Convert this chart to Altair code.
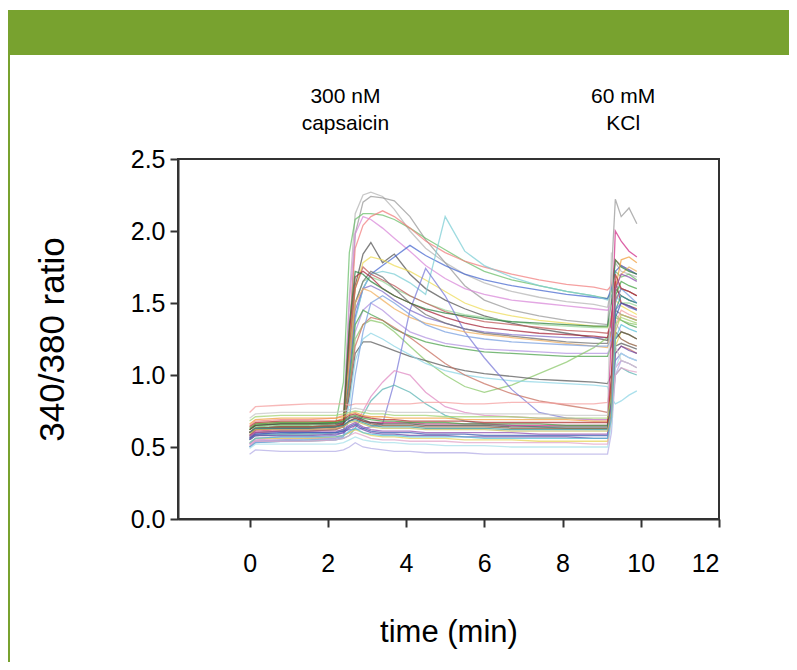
import altair as alt
import pandas as pd

# time grid (min) shared by all traces
T = [0.0, 0.15, 0.8, 1.5, 2.2, 2.4, 2.55, 2.7, 2.9, 3.1, 3.4, 3.7, 4.1, 4.5, 5.0,
     5.5, 6.0, 6.7, 7.4, 8.1, 8.8, 9.15, 9.25, 9.35, 9.5, 9.7, 9.9]

TRACE_COLORS = [
    "#b5b5b5", "#9a9a9a", "#6cbf6c", "#f28080", "#d98ad9", "#555555", "#4a6ad0",
    "#eedc5a", "#7fcfd6", "#9ad89a", "#c05a5a", "#8070c8", "#707070", "#b394e0",
    "#4ea34e", "#8cc86c", "#5c5c5c", "#8fd6e6", "#c87060", "#7c7cd8", "#e08cc4",
    "#5eb4b4", "#f4a0a0", "#f0b060", "#a8283c", "#d0308a", "#2f8040", "#7aa0e0",
    "#b4aee6", "#a8e0ea", "#e6d45a", "#3c5cb0", "#8b5a3a", "#6a48a8", "#44a444",
    "#f0a040", "#4a4a4a", "#2e9494", "#e2a6c8", "#b03030", "#a4d474", "#c8c8c8",
    "#9050b0", "#c8c060", "#58c0d8",
]

TRACE_VALUES = [
    [0.58,0.62,0.63,0.63,0.64,0.68,1.55,2.12,2.25,2.27,2.24,2.15,2.0,1.88,1.78,1.7,1.64,1.58,1.54,1.51,1.49,1.47,1.6,1.78,1.72,1.7,1.68],
    [0.55,0.6,0.61,0.61,0.62,0.65,1.25,1.98,2.2,2.24,2.23,2.21,2.1,1.94,1.78,1.62,1.52,1.45,1.41,1.38,1.36,1.35,1.7,2.22,2.1,2.16,2.05],
    [0.6,0.64,0.65,0.65,0.66,0.95,1.85,2.08,2.12,2.12,2.11,2.08,2.02,1.95,1.87,1.79,1.72,1.66,1.62,1.58,1.55,1.53,1.58,1.72,1.68,1.7,1.66],
    [0.65,0.68,0.69,0.69,0.7,0.72,1.3,1.88,2.04,2.1,2.14,2.1,2.02,1.93,1.85,1.79,1.75,1.7,1.66,1.63,1.61,1.59,1.62,1.8,1.76,1.73,1.7],
    [0.6,0.63,0.64,0.64,0.65,0.68,1.5,1.98,2.1,2.08,2.02,1.95,1.86,1.76,1.67,1.6,1.56,1.52,1.5,1.48,1.46,1.45,1.5,1.66,1.6,1.58,1.55],
    [0.58,0.62,0.63,0.63,0.64,0.66,1.2,1.62,1.84,1.92,1.78,1.84,1.7,1.6,1.52,1.46,1.41,1.36,1.32,1.29,1.26,1.24,1.38,1.6,1.55,1.52,1.5],
    [0.55,0.58,0.59,0.6,0.6,0.62,1.0,1.4,1.6,1.7,1.76,1.82,1.9,1.83,1.76,1.7,1.66,1.62,1.59,1.56,1.54,1.53,1.6,1.72,1.76,1.73,1.7],
    [0.62,0.65,0.66,0.66,0.67,0.69,1.2,1.6,1.78,1.82,1.8,1.76,1.72,1.66,1.58,1.5,1.45,1.41,1.38,1.36,1.34,1.33,1.4,1.52,1.48,1.45,1.42],
    [0.5,0.54,0.55,0.55,0.56,0.58,0.9,1.38,1.6,1.7,1.72,1.7,1.64,1.56,2.1,1.86,1.76,1.68,1.62,1.58,1.55,1.52,1.55,1.62,1.6,1.58,1.55],
    [0.57,0.6,0.61,0.61,0.62,0.64,1.1,1.5,1.65,1.68,1.65,1.6,1.55,1.5,1.45,1.42,1.4,1.37,1.35,1.34,1.33,1.33,1.42,1.56,1.5,1.5,1.48],
    [0.56,0.6,0.61,0.61,0.62,0.64,1.2,1.6,1.75,1.7,1.66,1.62,1.55,1.5,1.44,1.4,1.37,1.35,1.33,1.31,1.3,1.29,1.36,1.52,1.6,1.58,1.55],
    [0.52,0.56,0.57,0.57,0.58,0.6,1.0,1.45,1.6,1.62,1.58,1.52,1.45,1.4,1.36,1.32,1.3,1.28,1.27,1.26,1.26,1.26,1.3,1.45,1.5,1.47,1.45],
    [0.6,0.63,0.64,0.64,0.65,0.66,1.1,1.5,1.65,1.72,1.68,1.6,1.5,1.42,1.36,1.32,1.29,1.27,1.25,1.23,1.22,1.22,1.3,1.45,1.42,1.4,1.38],
    [0.5,0.54,0.55,0.56,0.56,0.58,0.9,1.3,1.45,1.5,1.45,1.38,1.3,1.26,1.22,1.2,1.18,1.17,1.16,1.15,1.15,1.15,1.2,1.36,1.3,1.28,1.25],
    [0.55,0.58,0.59,0.59,0.6,0.62,0.95,1.35,1.45,1.42,1.38,1.32,1.27,1.23,1.2,1.18,1.16,1.15,1.14,1.13,1.13,1.13,1.2,1.4,1.38,1.35,1.33],
    [0.6,0.63,0.64,0.64,0.65,0.66,0.9,1.25,1.35,1.38,1.36,1.3,1.2,1.1,1.0,0.92,0.88,0.93,1.01,1.09,1.19,1.26,1.3,1.42,1.38,1.36,1.35],
    [0.6,0.63,0.64,0.64,0.65,0.66,0.85,1.15,1.23,1.23,1.2,1.17,1.13,1.1,1.06,1.03,1.01,0.99,0.97,0.96,0.95,0.94,1.0,1.2,1.22,1.2,1.18],
    [0.55,0.58,0.59,0.59,0.6,0.62,0.8,1.1,1.25,1.29,1.25,1.2,1.14,1.08,1.03,1.0,0.98,0.96,0.95,0.94,0.93,0.92,0.84,0.8,0.82,0.86,0.89],
    [0.6,0.63,0.64,0.64,0.65,0.66,0.9,1.2,1.35,1.4,1.38,1.33,1.26,1.18,1.08,1.0,0.94,0.87,0.82,0.79,0.76,0.74,0.9,1.15,1.2,1.18,1.15],
    [0.56,0.59,0.6,0.6,0.6,0.61,0.62,0.62,0.63,0.64,0.66,0.95,1.45,1.74,1.55,1.3,1.12,0.9,0.74,0.7,0.69,0.69,0.8,1.1,1.15,1.12,1.1],
    [0.52,0.55,0.56,0.56,0.57,0.58,0.6,0.65,0.75,0.85,0.95,1.03,1.0,0.88,0.78,0.74,0.72,0.71,0.7,0.7,0.69,0.69,0.8,1.05,1.1,1.08,1.05],
    [0.5,0.53,0.54,0.54,0.55,0.56,0.58,0.63,0.72,0.82,0.9,0.93,0.88,0.8,0.72,0.68,0.66,0.65,0.64,0.63,0.63,0.63,0.75,1.0,1.05,1.02,1.0],
    [0.74,0.78,0.79,0.8,0.8,0.8,0.79,0.8,0.8,0.8,0.8,0.8,0.8,0.81,0.81,0.8,0.8,0.81,0.81,0.8,0.8,0.81,0.95,1.35,1.45,1.42,1.4],
    [0.62,0.66,0.67,0.67,0.68,0.7,1.1,1.5,1.6,1.58,1.52,1.46,1.4,1.36,1.33,1.3,1.28,1.26,1.24,1.22,1.2,1.19,1.3,1.6,1.7,1.75,1.72],
    [0.6,0.62,0.63,0.63,0.64,0.66,1.3,1.68,1.72,1.68,1.6,1.55,1.5,1.45,1.4,1.36,1.33,1.31,1.29,1.28,1.27,1.26,1.4,1.65,1.5,1.48,1.46],
    [0.58,0.61,0.62,0.62,0.63,0.64,0.68,0.7,0.68,0.67,0.67,0.67,0.67,0.66,0.66,0.66,0.66,0.65,0.65,0.65,0.65,0.65,1.3,2.0,1.93,1.86,1.82],
    [0.62,0.65,0.66,0.66,0.67,0.68,1.35,1.72,1.7,1.65,1.6,1.55,1.5,1.46,1.43,1.41,1.39,1.37,1.36,1.35,1.34,1.34,1.5,1.8,1.75,1.72,1.7],
    [0.5,0.53,0.54,0.55,0.55,0.57,0.7,1.0,1.3,1.5,1.55,1.5,1.42,1.35,1.3,1.27,1.25,1.23,1.22,1.21,1.2,1.2,1.25,1.5,1.6,1.55,1.5],
    [0.45,0.48,0.47,0.47,0.47,0.48,0.5,0.53,0.5,0.49,0.48,0.47,0.47,0.46,0.46,0.46,0.45,0.45,0.45,0.45,0.45,0.45,0.6,1.0,1.1,1.08,1.05],
    [0.49,0.52,0.52,0.52,0.52,0.53,0.55,0.57,0.55,0.54,0.53,0.53,0.52,0.52,0.51,0.51,0.51,0.5,0.5,0.5,0.5,0.5,0.65,1.05,1.15,1.12,1.1],
    [0.53,0.56,0.56,0.56,0.57,0.58,0.6,0.62,0.6,0.58,0.57,0.57,0.56,0.56,0.56,0.55,0.55,0.55,0.54,0.54,0.54,0.54,0.7,1.2,1.3,1.28,1.25],
    [0.56,0.59,0.6,0.6,0.6,0.61,0.64,0.66,0.63,0.61,0.6,0.6,0.6,0.59,0.59,0.59,0.58,0.58,0.58,0.58,0.58,0.58,0.8,1.4,1.5,1.48,1.45],
    [0.6,0.63,0.64,0.64,0.64,0.65,0.68,0.7,0.68,0.66,0.65,0.65,0.65,0.64,0.64,0.64,0.64,0.63,0.63,0.63,0.63,0.63,0.9,1.3,1.25,1.22,1.2],
    [0.55,0.58,0.58,0.58,0.59,0.6,0.63,0.65,0.62,0.6,0.59,0.59,0.58,0.58,0.58,0.57,0.57,0.57,0.57,0.57,0.56,0.56,0.75,1.15,1.2,1.17,1.15],
    [0.63,0.66,0.67,0.67,0.67,0.68,0.71,0.72,0.7,0.69,0.68,0.68,0.67,0.67,0.67,0.66,0.66,0.66,0.66,0.65,0.65,0.65,0.9,1.55,1.65,1.62,1.6],
    [0.66,0.69,0.7,0.7,0.7,0.71,0.73,0.74,0.72,0.71,0.71,0.7,0.7,0.7,0.7,0.69,0.69,0.69,0.69,0.69,0.68,0.68,0.9,1.6,1.8,1.82,1.78],
    [0.62,0.65,0.66,0.66,0.66,0.67,0.7,0.71,0.69,0.67,0.66,0.66,0.66,0.65,0.65,0.65,0.65,0.64,0.64,0.64,0.64,0.64,0.85,1.25,1.3,1.28,1.25],
    [0.6,0.63,0.63,0.63,0.64,0.65,0.68,0.69,0.67,0.65,0.64,0.64,0.64,0.63,0.63,0.63,0.63,0.62,0.62,0.62,0.62,0.62,0.8,1.45,1.55,1.52,1.5],
    [0.51,0.54,0.54,0.54,0.55,0.56,0.58,0.6,0.58,0.56,0.55,0.55,0.54,0.54,0.54,0.53,0.53,0.53,0.53,0.53,0.52,0.52,0.7,1.0,1.05,1.03,1.02],
    [0.64,0.67,0.68,0.68,0.68,0.69,0.72,0.73,0.71,0.7,0.69,0.69,0.68,0.68,0.68,0.68,0.67,0.67,0.67,0.67,0.67,0.67,1.0,1.7,1.6,1.58,1.55],
    [0.68,0.71,0.72,0.72,0.72,0.73,0.74,0.75,0.74,0.73,0.73,0.72,0.72,0.72,0.71,0.71,0.71,0.71,0.7,0.7,0.7,0.7,0.85,1.35,1.4,1.38,1.36],
    [0.7,0.73,0.74,0.74,0.74,0.75,0.76,0.77,0.76,0.75,0.75,0.74,0.74,0.74,0.74,0.73,0.73,0.73,0.73,0.72,0.72,0.72,1.85,1.2,1.1,1.08,1.05],
    [0.57,0.6,0.61,0.61,0.61,0.62,0.65,0.67,0.64,0.62,0.61,0.61,0.61,0.6,0.6,0.6,0.6,0.6,0.59,0.59,0.59,0.59,0.8,1.6,1.7,1.68,1.65],
    [0.59,0.62,0.62,0.62,0.63,0.64,0.67,0.68,0.66,0.64,0.63,0.63,0.63,0.62,0.62,0.62,0.62,0.61,0.61,0.61,0.61,0.61,0.75,1.3,1.42,1.4,1.38],
    [0.53,0.56,0.57,0.57,0.57,0.58,0.61,0.63,0.6,0.59,0.58,0.58,0.57,0.57,0.57,0.57,0.56,0.56,0.56,0.56,0.56,0.56,0.7,1.25,1.35,1.32,1.3],
]

X_TICKS = [0, 2, 4, 6, 8, 10, 12]
Y_TICKS = [0.0, 0.5, 1.0, 1.5, 2.0, 2.5]
ANNOT_TIME = [2.45, 9.55]
ANNOT_LINE1 = ["300 nM", "60 mM"]
ANNOT_LINE2 = ["capsaicin", "KCl"]

rows = []
for i, (c, vals) in enumerate(zip(TRACE_COLORS, TRACE_VALUES)):
    for t, v in zip(T, vals):
        rows.append({"cell": i, "t": t, "v": v, "color": c})
df = pd.DataFrame(rows)

annot = pd.DataFrame({"t": ANNOT_TIME, "l1": ANNOT_LINE1, "l2": ANNOT_LINE2})

FONT = "Liberation Sans"
xscale = alt.Scale(domain=[-1.83, 12], nice=False, zero=False)
yscale = alt.Scale(domain=[0, 2.5], nice=False, zero=False)
xaxis = alt.Axis(values=X_TICKS, format="d", title="time (min)", labelPadding=24,
                 titleY=113, titleBaseline="middle", titleFontSize=31)
yaxis = alt.Axis(values=Y_TICKS, format=".1f", title="340/380 ratio", labelPadding=5,
                 titleX=-126, titleBaseline="middle", titleFontSize=35)
X = alt.X("t:Q", scale=xscale, axis=xaxis)

lines = alt.Chart(df).mark_line(strokeWidth=1.3, opacity=0.75).encode(
    x=X,
    y=alt.Y("v:Q", scale=yscale, axis=yaxis),
    color=alt.Color("color:N", scale=None),
    detail="cell:N",
    order="t:Q",
)

txt1 = alt.Chart(annot).mark_text(font=FONT, fontSize=21, color="black", baseline="middle").encode(
    x=X, y=alt.value(-62), text="l1:N")
txt2 = alt.Chart(annot).mark_text(font=FONT, fontSize=21, color="black", baseline="middle").encode(
    x=X, y=alt.value(-35), text="l2:N")

one = pd.DataFrame({"a": [0]})
band = alt.Chart(one).mark_rect(color="#78a22f").encode(
    x=alt.value(-170), x2=alt.value(611), y=alt.value(-149), y2=alt.value(-104))
border = alt.Chart(one).mark_rule(color="#78a22f", strokeWidth=2).encode(
    x=alt.value(-169), y=alt.value(-104), y2=alt.value(503))

chart = alt.layer(band, border, lines, txt1, txt2).properties(
    width=541, height=360,
    autosize=alt.AutoSizeParams(type="none"),
    padding={"left": 170, "top": 151, "right": 70, "bottom": 143},
    background="white",
).configure_view(
    stroke="#333333", strokeWidth=2
).configure_axis(
    grid=False, domainColor="#333333", domainWidth=2, tickColor="#333333", tickWidth=2,
    tickSize=8, labelFont=FONT, labelFontSize=25, labelColor="black",
    titleFont=FONT, titleFontWeight="normal", titleColor="black",
)

chart.save("out.html", embed_options={"renderer": "svg", "actions": False})
